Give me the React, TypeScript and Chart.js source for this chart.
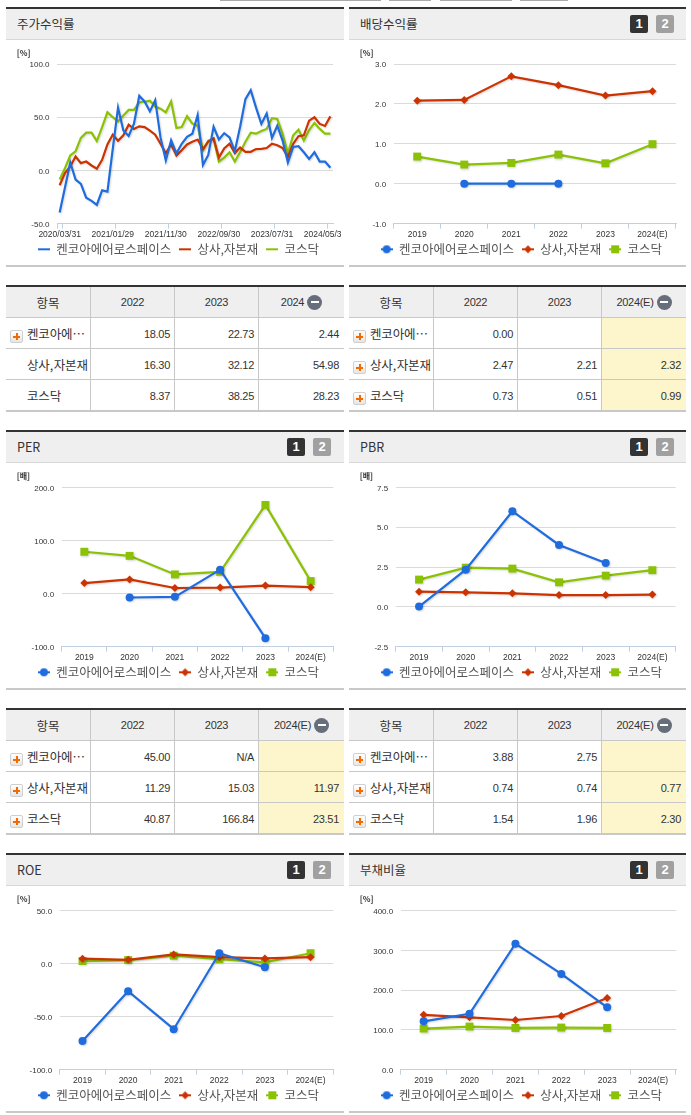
import React, { useEffect, useRef } from "react";
import { Chart, registerables } from "chart.js";

Chart.register(...registerables);

const SERIES_NAMES = ["켄코아에어로스페이스", "상사,자본재", "코스닥"];
const YEARS = ["2019", "2020", "2021", "2022", "2023", "2024(E)"];

const priceDates = [
  "2020/03/31","2020/04/29","2020/05/29","2020/06/30","2020/07/31","2020/08/31","2020/09/29","2020/10/30","2020/11/30","2020/12/30",
  "2021/01/29","2021/02/26","2021/03/31","2021/04/30","2021/05/31","2021/06/30","2021/07/30","2021/08/31","2021/09/30","2021/10/29",
  "2021/11/30","2021/12/30","2022/01/28","2022/02/28","2022/03/31","2022/04/29","2022/05/31","2022/06/30","2022/07/29","2022/08/31",
  "2022/09/30","2022/10/31","2022/11/30","2022/12/29","2023/01/31","2023/02/28","2023/03/31","2023/04/28","2023/05/31","2023/06/30",
  "2023/07/31","2023/08/31","2023/09/27","2023/10/31","2023/11/30","2023/12/28","2024/01/31","2024/02/29","2024/03/29","2024/04/30",
  "2024/05/31","2024/06/28",
];
const priceKenko = [
  -39.5,-16,7.4,-8.6,-12.6,-25.6,-28.7,-32.4,-18.8,-20,20,59,37.6,32.4,43.8,70,64.8,55.5,66,31,9.3,28.4,16,25,31.5,
  34.5,52,5,14.5,41,29,35,31,18.05,41,67,75.4,59,43.7,53.5,30.5,42,28,7.4,22,22.73,17,10.8,17,8.3,8.3,2.44,
];
const priceSector = [
  -14,-2.5,3.7,13,6.8,8.3,4.6,1.5,9.9,24.4,33.6,27.8,33,43,38.9,41.4,40.7,37.3,33.6,25,16,24.4,13.9,19,24.4,
  27,29,20,27,30,12,20.6,25,16.3,21.5,17.5,17.5,20,20.3,21,25,23.7,21,12.6,25,32.12,33,46.8,50,43.7,41.8,50.8,
];
const priceKosdaq = [
  -8.6,2,14,18,30.5,35.5,35.5,27.5,40.7,54.6,50,46,51.5,56.8,56.8,64,64.5,65.4,60,58,54.6,64.8,39.8,40.7,50.9,
  44,42,19,28,30,8.3,12,17,8.37,17,27,35.4,34.5,37,39,49,48.3,34.5,16,33,38.25,28,38,44.6,39,34.5,34.5,
];

const dividendKenko = [null, 0, 0, 0, null, null];
const dividendSector = [2.08, 2.1, 2.69, 2.47, 2.21, 2.32];
const dividendKosdaq = [0.68, 0.48, 0.52, 0.73, 0.51, 0.99];

const perKenko = [null, -7.4, -6.2, 45, -84, null];
const perSector = [19.8, 26.7, 10.5, 11.29, 15.03, 11.97];
const perKosdaq = [78.7, 71, 36, 40.87, 166.84, 23.51];

const pbrKenko = [0.02, 2.33, 6.0, 3.88, 2.75, null];
const pbrSector = [0.95, 0.91, 0.85, 0.74, 0.74, 0.77];
const pbrKosdaq = [1.71, 2.46, 2.4, 1.54, 1.96, 2.3];

const roeKenko = [-73, -26, -61.8, 9.9, -3.4, null];
const roeSector = [4.7, 3.7, 8.7, 6.2, 5, 6.2];
const roeKosdaq = [2.5, 3.4, 7.5, 4.3, 1.2, 9.9];

const debtKenko = [121.7, 140.8, 317, 241, 157, null];
const debtSector = [138, 131.7, 125, 135, 180.5, null];
const debtKosdaq = [103.5, 108.5, 105, 106, 105, null];

const BLUE = "#1f6cde";
const RED = "#cc3300";
const GREEN = "#8bc206";
const COLORS = [BLUE, RED, GREEN];
const POINT_STYLES = ["circle", "rectRot", "rect"];
const POINT_RADII = [4, 4, 5.6];
const CJK = '"Noto Sans CJK KR", "Noto Sans", sans-serif';
const LATIN = '"Liberation Sans", Arial, sans-serif';

function legendIcon(i: number, markers: boolean) {
  const c = document.createElement("canvas");
  c.width = 12;
  c.height = 10;
  const x = c.getContext("2d")!;
  x.strokeStyle = COLORS[i];
  x.fillStyle = COLORS[i];
  x.lineWidth = 2;
  x.beginPath();
  x.moveTo(0, 5);
  x.lineTo(12, 5);
  x.stroke();
  if (markers) {
    x.beginPath();
    if (i === 0) x.arc(6, 5, 4, 0, Math.PI * 2);
    if (i === 1) {
      x.moveTo(6, 1);
      x.lineTo(10, 5);
      x.lineTo(6, 9);
      x.lineTo(2, 5);
      x.closePath();
    }
    if (i === 2) x.rect(2, 1, 8, 8);
    x.fill();
  }
  return c;
}

const panelPlugin = {
  id: "panelPlugin",
  afterLayout(chart: any, _a: any, o: any) {
    if (chart.titleBlock) chart.titleBlock.left = 10.7;
    if (chart.legend) {
      chart.legend.left += o.legendShift;
      chart.legend.right += o.legendShift;
      const h = chart.legend.bottom - chart.legend.top;
      chart.legend.top = o.legendCenter - 14.25;
      chart.legend.bottom = chart.legend.top + h;
    }
    // let the x tick labels reach below the thin axis box
    chart.scales.x.bottom = chart.height;
  },
  beforeDatasetDraw(chart: any) {
    const c = chart.ctx;
    c.save();
    c.shadowColor = "rgba(0,0,0,0.16)";
    c.shadowBlur = 2;
    c.shadowOffsetX = 1;
    c.shadowOffsetY = 1;
  },
  afterDatasetDraw(chart: any) {
    chart.ctx.restore();
  },
};

type PanelProps = {
  title: string;
  unit: string;
  left: number;
  width: number;
  top: number;
  plotLeft: number;
  plotRight: number;
  plotTop: number;
  plotBottom: number;
  labels: string[];
  series: (number | null)[][];
  yMin: number;
  yMax: number;
  yStep: number;
  markers: boolean;
  labelStep: number;
  buttons: boolean;
  legendX: number;
};

function ChartPanel(p: PanelProps) {
  const ref = useRef<HTMLCanvasElement>(null);
  const canvasTop = p.top + 33;
  const canvasH = 225;
  const canvasW = p.width - 3;
  useEffect(() => {
    const legendH = 12.5 + 16;
    const topH = p.plotTop - canvasTop;
    const chart = new Chart(ref.current!, {
      type: "line",
      plugins: [panelPlugin],
      data: {
        labels: p.labels,
        datasets: p.series.map((d, i) => ({
          label: SERIES_NAMES[i],
          data: d,
          borderColor: COLORS[i],
          backgroundColor: COLORS[i],
          borderWidth: 2.2,
          tension: 0,
          spanGaps: false,
          clip: false,
          pointStyle: POINT_STYLES[i],
          pointRadius: p.markers ? POINT_RADII[i] : 0,
          pointBorderWidth: 0,
          pointBackgroundColor: COLORS[i],
        })),
      },
      options: {
        responsive: false,
        animation: false,
        devicePixelRatio: 1,
        events: [],
        layout: { padding: { left: 0, top: 0, right: p.left + canvasW - p.plotRight, bottom: 0 } },
        plugins: {
          tooltip: { enabled: false },
          title: {
            display: true,
            text: p.unit,
            align: "start",
            color: "#333",
            font: { family: CJK, size: 8, lineHeight: 1 },
            padding: { top: 8.5, bottom: topH - 16.5 },
          },
          legend: {
            position: "bottom",
            labels: {
              usePointStyle: true,
              pointStyleWidth: 12,
              padding: 8,
              color: "#555",
              font: { family: CJK, size: 12.5 },
              generateLabels: (chart: any) =>
                Chart.defaults.plugins.legend.labels.generateLabels(chart).map((l: any) => ({
                  ...l,
                  pointStyle: legendIcon(l.datasetIndex, p.markers),
                })),
            },
          },
          panelPlugin: {
            legendShift: p.legendX - (p.left + (p.plotRight - p.left) / 2),
            legendCenter: 209.3,
          },
        } as any,
        scales: {
          x: {
            type: "category",
            offset: true,
            afterFit: (s: any) => {
              s.height = canvasH - (p.plotBottom - canvasTop) - legendH;
            },
            grid: {
              offset: true,
              drawOnChartArea: false,
              drawTicks: true,
              tickLength: 5,
              color: (ctx: any) => {
                if (p.labelStep === 1) return "#c0d0e0";
                return ctx.index === 0 || (ctx.index - 1) % p.labelStep === 0 ? "#c0d0e0" : "transparent";
              },
            },
            border: { color: "#c0d0e0", width: 1 },
            ticks: {
              autoSkip: false,
              maxRotation: 0,
              minRotation: 0,
              padding: 1,
              color: "#333",
              font: { family: LATIN, size: 8.5 },
              callback: (_v: any, i: number) => (i % p.labelStep === 0 ? p.labels[i] : ""),
            },
          },
          y: {
            min: p.yMin,
            max: p.yMax,
            afterFit: (s: any) => {
              s.width = p.plotLeft - p.left;
            },
            grid: { color: "#dadada", lineWidth: 1, drawTicks: false },
            border: { display: false },
            ticks: {
              stepSize: p.yStep,
              padding: 7.5,
              labelOffset: 1,
              color: "#333",
              font: { family: LATIN, size: 8 },
              callback: (v: any) => Number(v).toFixed(1),
            },
          },
        },
      },
    } as any);
    return () => chart.destroy();
  }, []);

  return (
    <div style={{ position: "absolute", left: p.left, top: p.top, width: p.width, height: 260, borderTop: "2px solid #333", borderBottom: "2px solid #c8c8c8", boxSizing: "border-box" }}>
      <div style={{ height: 30, background: "#efefef", borderBottom: "1px solid #d8d8d8", font: `12.5px ${CJK}`, color: "#333", lineHeight: "29px", paddingLeft: 11 }}>
        {p.title}
      </div>
      {p.buttons && (
        <>
          <div style={badge("#333", 281)}>1</div>
          <div style={badge("#a0a0a0", 307)}>2</div>
        </>
      )}
      <canvas
        ref={ref}
        width={canvasW}
        height={canvasH}
        style={{ position: "absolute", left: 0, top: canvasTop - p.top - 2, display: "block" }}
      />
    </div>
  );
}

function badge(bg: string, left: number): React.CSSProperties {
  return {
    position: "absolute",
    left,
    top: 6,
    width: 18,
    height: 18,
    borderRadius: 2,
    background: bg,
    color: "#fff",
    font: `bold 13px ${LATIN}`,
    lineHeight: "18px",
    textAlign: "center",
  };
}

type TableProps = {
  left: number;
  top: number;
  widths: number[];
  lastHead: string;
  rows: string[];
  icons: boolean[];
  col2022: string[];
  col2023: string[];
  colLast: string[];
  highlight: boolean;
};

const BORDER = "1px solid #c8c8c8";

function Table(t: TableProps) {
  const num = (last: boolean, hl: boolean, bottom: string): React.CSSProperties => ({
    height: 29,
    padding: "1px 4px 0 0",
    textAlign: "right",
    font: `11px ${LATIN}`,
    letterSpacing: "-0.3px",
    color: "#333",
    background: hl ? "#fdf6cd" : "#fff",
    borderRight: last ? "none" : BORDER,
    borderBottom: bottom,
  });
  return (
    <table
      style={{
        position: "absolute",
        left: t.left,
        top: t.top,
        width: t.widths.reduce((a, b) => a + b, 0),
        tableLayout: "fixed",
        borderCollapse: "separate",
        borderSpacing: 0,
        borderTop: "2px solid #333",
      }}
    >
      <colgroup>
        {t.widths.map((w, i) => (
          <col key={i} style={{ width: w }} />
        ))}
      </colgroup>
      <thead>
        <tr>
          {["항목", "2022", "2023", t.lastHead].map((h, i) => (
            <th
              key={i}
              style={{
                height: 30,
                padding: 0,
                background: "#efefef",
                fontWeight: "normal",
                color: "#333",
                font: i === 0 ? `12.5px ${CJK}` : `11px ${LATIN}`,
                letterSpacing: i === 0 ? 0 : "-0.3px",
                borderRight: i === 3 ? "none" : BORDER,
                borderBottom: BORDER,
              }}
            >
              <span style={{ display: "inline-flex", alignItems: "center", gap: 3 }}>
                {h}
                {i === 3 && (
                  <span style={{ width: 15, height: 15, borderRadius: 8, background: "#666e7c", display: "inline-flex", alignItems: "center", justifyContent: "center" }}>
                    <span style={{ width: 8, height: 2, background: "#fff" }} />
                  </span>
                )}
              </span>
            </th>
          ))}
        </tr>
      </thead>
      <tbody>
        {t.rows.map((r, i) => {
          const bottom = i === t.rows.length - 1 ? "2px solid #c8c8c8" : BORDER;
          return (
            <tr key={i}>
              <td style={{ height: 30, padding: 0, position: "relative", font: `12.5px ${CJK}`, color: "#333", wordSpacing: "-2px", borderRight: BORDER, borderBottom: bottom, whiteSpace: "nowrap" }}>
                {t.icons[i] && (
                  <span style={{ position: "absolute", left: 4, top: 12, width: 11, height: 11, border: "1px solid #cfcfcf", borderRadius: 2, background: "linear-gradient(#fff,#e6e6e6)" }}>
                    <span style={{ position: "absolute", left: 2, top: 4.5, width: 7, height: 2, background: "#f26a00" }} />
                    <span style={{ position: "absolute", left: 4.5, top: 2, width: 2, height: 7, background: "#f26a00" }} />
                  </span>
                )}
                <span style={{ marginLeft: 21, letterSpacing: "-0.15px" }}>{r}</span>
              </td>
              <td style={num(false, false, bottom)}>{t.col2022[i]}</td>
              <td style={num(false, false, bottom)}>{t.col2023[i]}</td>
              <td style={{ ...num(true, t.highlight, bottom), paddingRight: 5 }}>{t.colLast[i]}</td>
            </tr>
          );
        })}
      </tbody>
    </table>
  );
}

const ROW_NAMES = ["켄코아에⋯", "상사, 자본재", "코스닥"];
const LEFT_W = [85, 84, 84, 85];
const RIGHT_W = [85, 84, 84, 84];

const returnT2022 = ["18.05", "16.30", "8.37"];
const returnT2023 = ["22.73", "32.12", "38.25"];
const returnT2024 = ["2.44", "54.98", "28.23"];
const dividendT2022 = ["0.00", "2.47", "0.73"];
const dividendT2023 = ["", "2.21", "0.51"];
const dividendT2024 = ["", "2.32", "0.99"];
const perT2022 = ["45.00", "11.29", "40.87"];
const perT2023 = ["N/A", "15.03", "166.84"];
const perT2024 = ["", "11.97", "23.51"];
const pbrT2022 = ["3.88", "0.74", "1.54"];
const pbrT2023 = ["2.75", "0.74", "1.96"];
const pbrT2024 = ["", "0.77", "2.30"];

const TOP_STRIPS = [[220, 161], [389, 42], [440, 72], [520, 48]];

export default function App() {
  const L = { left: 6, width: 338, legendX: 178.5 };
  const R = { left: 349, width: 337, legendX: 521.3 };
  return (
    <div style={{ position: "absolute", left: 0, top: 0, width: 691, height: 1115, overflow: "hidden", background: "#fff" }}>
      {TOP_STRIPS.map(([x, w], i) => (
        <div key={i} style={{ position: "absolute", left: x, top: 0, width: w, height: 1, background: "#aaa" }} />
      ))}
      <ChartPanel {...L} top={7} title="주가수익률" unit="[%]" plotLeft={57} plotRight={333} plotTop={64} plotBottom={225.6}
        labels={priceDates} series={[priceKenko, priceSector, priceKosdaq]} yMin={-50} yMax={100} yStep={50} markers={false} labelStep={10} buttons={false} />
      <ChartPanel {...R} top={7} title="배당수익률" unit="[%]" plotLeft={393.7} plotRight={676} plotTop={64} plotBottom={225.6}
        labels={YEARS} series={[dividendKenko, dividendSector, dividendKosdaq]} yMin={-1} yMax={3} yStep={1} markers labelStep={1} buttons />
      <Table left={6} top={285} widths={LEFT_W} lastHead="2024" rows={ROW_NAMES} icons={[true, false, false]}
        col2022={returnT2022} col2023={returnT2023} colLast={returnT2024} highlight={false} />
      <Table left={349} top={285} widths={RIGHT_W} lastHead="2024(E)" rows={ROW_NAMES} icons={[true, true, true]}
        col2022={dividendT2022} col2023={dividendT2023} colLast={dividendT2024} highlight />
      <ChartPanel {...L} top={430} title="PER" unit="[배]" plotLeft={61.7} plotRight={333.3} plotTop={487.3} plotBottom={648.7}
        labels={YEARS} series={[perKenko, perSector, perKosdaq]} yMin={-100} yMax={200} yStep={100} markers labelStep={1} buttons />
      <ChartPanel {...R} top={430} title="PBR" unit="[배]" plotLeft={395.7} plotRight={675.7} plotTop={487.3} plotBottom={648.7}
        labels={YEARS} series={[pbrKenko, pbrSector, pbrKosdaq]} yMin={-2.5} yMax={7.5} yStep={2.5} markers labelStep={1} buttons />
      <Table left={6} top={708} widths={LEFT_W} lastHead="2024(E)" rows={ROW_NAMES} icons={[true, true, true]}
        col2022={perT2022} col2023={perT2023} colLast={perT2024} highlight />
      <Table left={349} top={708} widths={RIGHT_W} lastHead="2024(E)" rows={ROW_NAMES} icons={[true, true, true]}
        col2022={pbrT2022} col2023={pbrT2023} colLast={pbrT2024} highlight />
      <ChartPanel {...L} top={853} title="ROE" unit="[%]" plotLeft={59.7} plotRight={333.3} plotTop={910.7} plotBottom={1071.7}
        labels={YEARS} series={[roeKenko, roeSector, roeKosdaq]} yMin={-100} yMax={50} yStep={50} markers labelStep={1} buttons />
      <ChartPanel {...R} top={853} title="부채비율" unit="[%]" plotLeft={400.7} plotRight={676} plotTop={910.7} plotBottom={1071.7}
        labels={YEARS} series={[debtKenko, debtSector, debtKosdaq]} yMin={0} yMax={400} yStep={100} markers labelStep={1} buttons />
    </div>
  );
}
